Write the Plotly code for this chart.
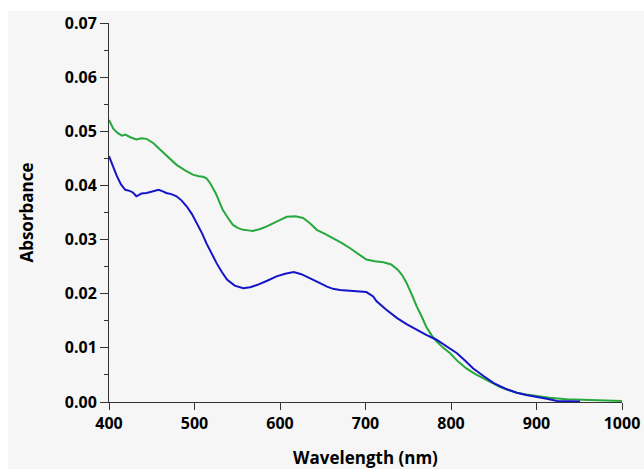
import plotly.graph_objects as go

# green spectrum
wl_green = [400, 405, 410, 415, 419, 425, 432, 438, 444, 452, 460, 470, 479, 489, 498, 505, 510, 514,
            518, 525, 533, 540, 545, 551, 557, 563, 568, 576, 584, 596, 608, 618, 627, 635, 643, 652,
            662, 672, 682, 692, 701, 711, 721, 730, 738, 743, 748, 754, 760, 766, 771, 777, 783, 791,
            799, 808, 818, 828, 838, 848, 857, 867, 877, 888, 900, 915, 935, 955, 975, 994, 1000]
abs_green = [0.0521, 0.0505, 0.0497, 0.0492, 0.0494, 0.0489, 0.0485, 0.0487, 0.0486, 0.0478, 0.0466,
             0.0452, 0.0438, 0.0428, 0.0420, 0.0417, 0.0416, 0.0413, 0.0405, 0.0385, 0.0355, 0.0338,
             0.0327, 0.0321, 0.0318, 0.0317, 0.0316, 0.0319, 0.0324, 0.0333, 0.0342, 0.0343, 0.0340,
             0.0330, 0.0318, 0.0311, 0.0303, 0.0294, 0.0284, 0.0273, 0.0263, 0.0260, 0.0258, 0.0254,
             0.0244, 0.0234, 0.0220, 0.0199, 0.0176, 0.0157, 0.0139, 0.0124, 0.0112, 0.0100, 0.0090,
             0.0075, 0.0062, 0.0052, 0.0044, 0.0035, 0.0028, 0.0022, 0.0017, 0.0014, 0.0011, 0.0008,
             0.0005, 0.0004, 0.0003, 0.0002, 0.0002]

# blue spectrum
wl_blue = [400, 403, 405, 409, 414, 419, 424, 428, 432, 438, 444, 451, 458, 463, 467, 473, 479, 485,
           491, 497, 503, 509, 514, 520, 526, 532, 538, 547, 557, 565, 573, 585, 596, 606, 616, 625,
           635, 645, 655, 662, 670, 682, 694, 701, 709, 713, 724, 737, 748, 760, 771, 783, 795, 807,
           816, 826, 838, 850, 863, 877, 888, 900, 912, 924, 937, 951]
abs_blue = [0.0454, 0.0442, 0.0435, 0.0418, 0.0402, 0.0392, 0.0390, 0.0387, 0.0380, 0.0385, 0.0386,
            0.0389, 0.0392, 0.0389, 0.0386, 0.0384, 0.0380, 0.0372, 0.0361, 0.0347, 0.0330, 0.0311,
            0.0293, 0.0274, 0.0256, 0.0240, 0.0226, 0.0215, 0.0210, 0.0212, 0.0216, 0.0224, 0.0232,
            0.0237, 0.0240, 0.0236, 0.0229, 0.0221, 0.0213, 0.0209, 0.0207, 0.0206, 0.0204, 0.0203,
            0.0195, 0.0186, 0.0171, 0.0155, 0.0144, 0.0133, 0.0124, 0.0115, 0.0103, 0.0090, 0.0077,
            0.0062, 0.0048, 0.0035, 0.0025, 0.0017, 0.0013, 0.0010, 0.0006, 0.0002, 0.0001, 0.0001]

fig = go.Figure()
fig.add_trace(go.Scatter(x=wl_green, y=abs_green, mode="lines",
                         line=dict(color="#27a83c", width=2), showlegend=False))
fig.add_trace(go.Scatter(x=wl_blue, y=abs_blue, mode="lines",
                         line=dict(color="#1414c8", width=2), showlegend=False))

# light grey scanned-looking background
fig.add_shape(type="rect", xref="paper", yref="paper", x0=-0.197, x1=1.1, y0=-0.25, y1=1.032,
              fillcolor="#f6f6f6", line_width=0, layer="below")

fig.update_layout(
    width=644, height=469,
    margin=dict(l=109, r=22, t=23, b=67),
    paper_bgcolor="white",
    plot_bgcolor="rgba(0,0,0,0)",
    font=dict(family="Open Sans", size=16, color="black"),
)
fig.update_xaxes(
    range=[400, 1000], tickvals=[400, 500, 600, 700, 800, 900, 1000],
    showgrid=False, zeroline=False, showline=True, linecolor="#333", linewidth=1,
    ticks="outside", ticklen=7, tickcolor="#333", automargin=False,
    tickfont=dict(family="Open Sans", size=16, weight="bold", color="black"),
    title=dict(text="Wavelength (nm)", font=dict(family="Open Sans", size=17, weight="bold", color="black"),
               standoff=19),
)
fig.update_yaxes(
    range=[0, 0.07], dtick=0.01, tickformat=".2f",
    showgrid=False, zeroline=False, showline=True, linecolor="#333", linewidth=1,
    ticks="outside", ticklen=8, tickcolor="#333", automargin=False,
    minor=dict(dtick=0.005, ticks="outside", ticklen=4, tickcolor="#333", showgrid=False),
    tickfont=dict(family="Open Sans", size=16, weight="bold", color="black"),
    title=dict(text="Absorbance", font=dict(family="Open Sans", size=17, weight="bold", color="black"),
               standoff=26),
)

# drop the default 8px body margin so the figure sits at the page corner
fig.write_html("out.html", config={"displayModeBar": False},
               post_script="document.body.style.margin='0px';")
